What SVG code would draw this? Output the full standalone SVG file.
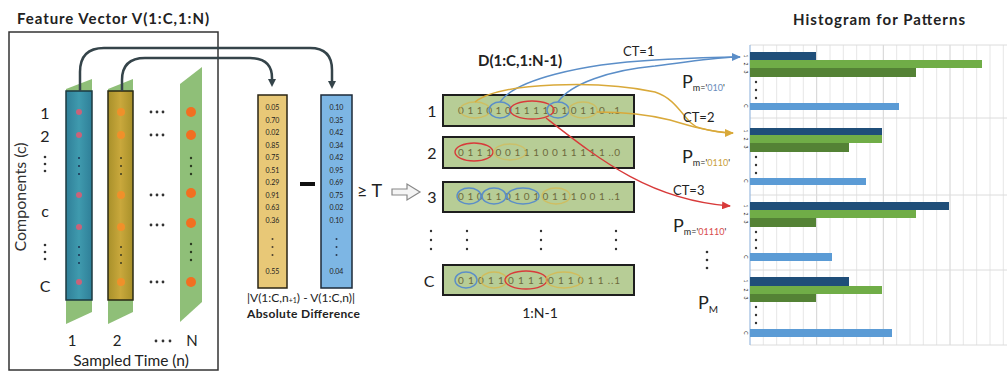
<svg xmlns="http://www.w3.org/2000/svg" width="1007" height="371" viewBox="0 0 1007 371">
<style>
text{font-family:Lato,"Open Sans","Liberation Sans",sans-serif;fill:#222}
.title{font-size:15px;font-weight:bold}
.lbl{font-size:16px;fill:#333}
.val{font-size:7px;text-anchor:middle}
.row{font-size:10px;fill:#6e6a3c}
.strip{fill:#8fbf78}
.grid{stroke:#e6e6e6;stroke-width:1}
.gridM{stroke:#d2d2d2;stroke-width:1}
.hsep{stroke:#dcdcdc;stroke-width:1}
.conn{fill:none;stroke-width:2.5}
.ell{fill:none;stroke-width:1.4}
.dot{fill:#333}
.tick{font-size:5px;fill:#555}
</style>
<defs>
<marker id="ahD" markerWidth="8" markerHeight="8" refX="4" refY="4" orient="auto" markerUnits="userSpaceOnUse"><path d="M0,0 L8,4 L0,8 z" fill="#35444a"/></marker>
<marker id="ahB" markerWidth="9" markerHeight="8" refX="8" refY="4" orient="auto" markerUnits="userSpaceOnUse"><path d="M0,0 L9,4 L0,8 z" fill="#5b8ec8"/></marker>
<marker id="ahY" markerWidth="9" markerHeight="8" refX="8" refY="4" orient="auto" markerUnits="userSpaceOnUse"><path d="M0,0 L9,4 L0,8 z" fill="#d9a93a"/></marker>
<marker id="ahR" markerWidth="9" markerHeight="8" refX="8" refY="4" orient="auto" markerUnits="userSpaceOnUse"><path d="M0,0 L9,4 L0,8 z" fill="#d83a3a"/></marker>
<linearGradient id="gTeal" x1="0" x2="1"><stop offset="0" stop-color="#2f7f98"/><stop offset="0.5" stop-color="#3f9aae"/><stop offset="1" stop-color="#2f7f98"/></linearGradient>
<linearGradient id="gOlive" x1="0" x2="1"><stop offset="0" stop-color="#a8902a"/><stop offset="0.5" stop-color="#c9a83c"/><stop offset="1" stop-color="#a8902a"/></linearGradient>
</defs>

<!-- Feature vector panel -->
<g id="feature-vector">
<text class="title" x="17" y="24" textLength="192">Feature Vector V(1:C,1:N)</text>
<rect x="9" y="32" width="209" height="338" fill="none" stroke="#333" stroke-width="1.5"/>
<text class="lbl" transform="translate(26,197) rotate(-90)" text-anchor="middle" font-size="15">Components (c)</text>
<g class="lbl" text-anchor="middle">
<text x="45" y="119">1</text><text x="45" y="142">2</text>
<text x="45" y="217">c</text><text x="45" y="292">C</text>
</g>
<g class="dot"><circle cx="45" cy="157" r="1.3"/><circle cx="45" cy="164" r="1.3"/><circle cx="45" cy="171" r="1.3"/><circle cx="45" cy="245" r="1.3"/><circle cx="45" cy="252" r="1.3"/><circle cx="45" cy="259" r="1.3"/></g>
</g>

<g id="column-1">
<polygon class="strip" points="66,89 92,79 92,312 66,324"/>
<rect x="66" y="91" width="26" height="209" fill="url(#gTeal)" stroke="#1d3a40" stroke-width="1.5"/>
<g fill="#c9637a"><circle cx="79" cy="112" r="3"/><circle cx="79" cy="135" r="3"/><circle cx="79" cy="195" r="3"/><circle cx="79" cy="227" r="3"/><circle cx="79" cy="282" r="3"/></g>
<g fill="#1d3050"><circle cx="79" cy="158" r="1"/><circle cx="79" cy="166" r="1"/><circle cx="79" cy="174" r="1"/><circle cx="79" cy="247" r="1"/><circle cx="79" cy="255" r="1"/><circle cx="79" cy="263" r="1"/></g>
</g>
<g id="column-2">
<polygon class="strip" points="108,89 133,79 133,312 108,324"/>
<rect x="108" y="91" width="25" height="209" fill="url(#gOlive)" stroke="#2a2a14" stroke-width="1.5"/>
<g fill="#f0902a"><circle cx="121" cy="112" r="4"/><circle cx="121" cy="135" r="4"/><circle cx="121" cy="195" r="4"/><circle cx="121" cy="227" r="4"/><circle cx="121" cy="282" r="4"/></g>
<g fill="#3a3a20"><circle cx="121" cy="158" r="1"/><circle cx="121" cy="166" r="1"/><circle cx="121" cy="174" r="1"/><circle cx="121" cy="247" r="1"/><circle cx="121" cy="255" r="1"/><circle cx="121" cy="263" r="1"/></g>
</g>
<g id="column-N">
<polygon class="strip" points="180,84 202,67 202,302 180,322"/>
<g fill="#f26f21"><circle cx="191" cy="112" r="5"/><circle cx="191" cy="135" r="5"/><circle cx="191" cy="193" r="5"/><circle cx="191" cy="223" r="5"/><circle cx="191" cy="282" r="5"/></g>
<g fill="#2a3a20"><circle cx="191" cy="158" r="1.2"/><circle cx="191" cy="166" r="1.2"/><circle cx="191" cy="174" r="1.2"/><circle cx="191" cy="244" r="1.2"/><circle cx="191" cy="252" r="1.2"/><circle cx="191" cy="260" r="1.2"/></g>
</g>
<g id="row-ellipsis" fill="#333">
<g id="hd"><circle cx="151" cy="112" r="1.4"/><circle cx="157" cy="112" r="1.4"/><circle cx="163" cy="112" r="1.4"/></g>
<use href="#hd" y="23"/><use href="#hd" y="83"/><use href="#hd" y="113"/><use href="#hd" y="170"/>
</g>
<g id="time-axis" class="lbl" text-anchor="middle">
<text x="72" y="346" font-size="15">1</text><text x="117" y="346" font-size="15">2</text>
<text x="192" y="346" font-size="15">N</text>
<g fill="#333"><circle cx="156" cy="341" r="1.4"/><circle cx="163" cy="341" r="1.4"/><circle cx="170" cy="341" r="1.4"/></g>
<text x="131" y="366" font-size="15.5">Sampled Time (n)</text>
</g>

<!-- Absolute difference -->
<g id="diff-col-a">
<rect x="258" y="95" width="29" height="193" fill="#e8c877" stroke="#2a2414" stroke-width="1.5"/>
<g class="val" fill="#7a6330">
<text x="272.5" y="110">0.05</text><text x="272.5" y="122.5">0.70</text><text x="272.5" y="135">0.02</text><text x="272.5" y="147.5">0.85</text><text x="272.5" y="160">0.75</text><text x="272.5" y="172.5">0.51</text><text x="272.5" y="185">0.29</text><text x="272.5" y="197.5">0.91</text><text x="272.5" y="210">0.63</text><text x="272.5" y="222.5">0.36</text><text x="272.5" y="274">0.55</text>
</g>
<g fill="#4a4030"><circle cx="272.5" cy="239" r="1"/><circle cx="272.5" cy="247" r="1"/><circle cx="272.5" cy="255" r="1"/></g>
</g>
<g id="diff-col-b">
<rect x="321" y="95" width="31" height="193" fill="#7db6e4" stroke="#1d2a38" stroke-width="1.5"/>
<g class="val" fill="#35557c">
<text x="336.5" y="110">0.10</text><text x="336.5" y="122.5">0.35</text><text x="336.5" y="135">0.42</text><text x="336.5" y="147.5">0.34</text><text x="336.5" y="160">0.42</text><text x="336.5" y="172.5">0.95</text><text x="336.5" y="185">0.69</text><text x="336.5" y="197.5">0.75</text><text x="336.5" y="210">0.02</text><text x="336.5" y="222.5">0.10</text><text x="336.5" y="274">0.04</text>
</g>
<g fill="#2a3a50"><circle cx="336.5" cy="239" r="1"/><circle cx="336.5" cy="247" r="1"/><circle cx="336.5" cy="255" r="1"/></g>
</g>
<g id="diff-ops">
<rect x="300" y="182" width="15" height="4" fill="#111"/>
<text x="357" y="197" font-size="18" fill="#333">≥ T</text>
<polygon points="392,189 407,189 407,184 420,192 407,200 407,195 392,195" fill="#f4f4f4" stroke="#888" stroke-width="1.2"/>
<text x="247" y="302" font-size="12" fill="#333">|V(1:C,n<tspan font-size="7" dy="1">+1</tspan><tspan dy="-1">) - V(1:C,n)|</tspan></text>
<text x="247" y="318" font-size="12" font-weight="bold" textLength="113">Absolute Difference</text>
</g>

<!-- D matrix -->
<g id="d-matrix">
<text class="title" x="478" y="66" font-size="16.5">D(1:C,1:N-1)</text>
<g class="lbl" text-anchor="middle">
<text x="432" y="117">1</text><text x="432" y="159">2</text><text x="432" y="203">3</text><text x="429" y="287">C</text>
</g>
<g id="vd" fill="#333"><circle cx="431" cy="231" r="1.2"/><circle cx="431" cy="240" r="1.2"/><circle cx="431" cy="249" r="1.2"/></g>
<use href="#vd" x="36"/><use href="#vd" x="110"/><use href="#vd" x="185"/>
<text x="540" y="318" font-size="14" text-anchor="middle" fill="#333">1:N-1</text>
</g>
<g id="d-row-1">
<rect x="443" y="95" width="191" height="31" fill="#b7cd96" stroke="#1e1e1e" stroke-width="2"/>
<text class="row" x="458" y="114" textLength="162">0 1 1 0 1 0 1 1 1 1 0 1 0 1 1 0 ..1</text>
<ellipse class="ell" cx="475" cy="110" rx="15" ry="8" stroke="#d8b84c" opacity="0.7"/>
<ellipse class="ell" cx="500" cy="110" rx="11" ry="8" stroke="#5b8ec8"/>
<ellipse class="ell" cx="532" cy="110" rx="22" ry="9" stroke="#d83a3a"/>
<ellipse class="ell" cx="558" cy="110" rx="11" ry="8" stroke="#5b8ec8"/>
<ellipse class="ell" cx="583" cy="110" rx="14" ry="8" stroke="#d8b84c" opacity="0.7"/>
</g>
<g id="d-row-2">
<rect x="443" y="137" width="191" height="31" fill="#b7cd96" stroke="#1e1e1e" stroke-width="2"/>
<text class="row" x="458" y="156" textLength="162">0 1 1 1 0 0 1 1 1 0 0 1 1 1 1 1 ..0</text>
<ellipse class="ell" cx="474" cy="152" rx="19" ry="9" stroke="#d83a3a"/>
<ellipse class="ell" cx="510" cy="152" rx="16" ry="8" stroke="#d8b84c" opacity="0.6"/>
</g>
<g id="d-row-3">
<rect x="443" y="182" width="191" height="30" fill="#b7cd96" stroke="#1e1e1e" stroke-width="2"/>
<text class="row" x="458" y="200" textLength="162">0 1 0 1 1 0 1 0 1 0 1 1 1 0 0 1 ..1</text>
<ellipse class="ell" cx="469" cy="196" rx="12" ry="8" stroke="#5b8ec8"/>
<ellipse class="ell" cx="494" cy="196" rx="12" ry="8" stroke="#5b8ec8"/>
<ellipse class="ell" cx="523" cy="196" rx="16" ry="8" stroke="#5b8ec8"/>
<ellipse class="ell" cx="556" cy="196" rx="14" ry="8" stroke="#d8b84c" opacity="0.7"/>
</g>
<g id="d-row-C">
<rect x="443" y="265" width="191" height="30" fill="#b7cd96" stroke="#1e1e1e" stroke-width="2"/>
<text class="row" x="458" y="284" textLength="162">0 1 0 1 1 0 1 1 1 0 1 1 0 1 1 ..1</text>
<ellipse class="ell" cx="466" cy="280" rx="11" ry="8" stroke="#5b8ec8"/>
<ellipse class="ell" cx="494" cy="280" rx="13" ry="8" stroke="#d8b84c" opacity="0.8"/>
<ellipse class="ell" cx="526" cy="280" rx="21" ry="9" stroke="#d83a3a"/>
<ellipse class="ell" cx="564" cy="280" rx="18" ry="8" stroke="#d8b84c" opacity="0.8"/>
</g>

<!-- Histogram -->
<g id="histogram">
<text class="title" x="793" y="25" font-size="16" textLength="172">Histogram for Patterns</text>
<g class="grid">
<line x1="763.3" y1="45" x2="763.3" y2="345"/><line x1="776.7" y1="45" x2="776.7" y2="345"/><line x1="790" y1="45" x2="790" y2="345"/><line x1="803.3" y1="45" x2="803.3" y2="345"/>
<line x1="830" y1="45" x2="830" y2="345"/><line x1="843.3" y1="45" x2="843.3" y2="345"/><line x1="856.7" y1="45" x2="856.7" y2="345"/><line x1="870" y1="45" x2="870" y2="345"/>
<line x1="896.7" y1="45" x2="896.7" y2="345"/><line x1="910" y1="45" x2="910" y2="345"/><line x1="923.3" y1="45" x2="923.3" y2="345"/><line x1="936.7" y1="45" x2="936.7" y2="345"/>
<line x1="963.3" y1="45" x2="963.3" y2="345"/><line x1="976.7" y1="45" x2="976.7" y2="345"/><line x1="990" y1="45" x2="990" y2="345"/><line x1="1003.3" y1="45" x2="1003.3" y2="345"/>
</g>
<g class="gridM">
<line x1="816.7" y1="45" x2="816.7" y2="345"/><line x1="883.3" y1="45" x2="883.3" y2="345"/><line x1="950" y1="45" x2="950" y2="345"/>
</g>
<g class="hsep">
<line x1="750" y1="45" x2="1007" y2="45"/><line x1="750" y1="118" x2="1007" y2="118"/><line x1="750" y1="195" x2="1007" y2="195"/><line x1="750" y1="270" x2="1007" y2="270"/><line x1="750" y1="345" x2="1007" y2="345"/>
</g>
<line x1="750" y1="45" x2="750" y2="345" stroke="#9bbbe0" stroke-width="1.2"/>
</g>
<g id="bars-group-1">
<rect x="750" y="52" width="66" height="8" fill="#1f4e79"/>
<rect x="750" y="60" width="232" height="8" fill="#70ad47"/>
<rect x="750" y="68" width="166" height="9" fill="#548235"/>
<rect x="750" y="103" width="149" height="7" fill="#5b9bd5"/>
<g class="dot"><circle cx="756" cy="82" r="1.2"/><circle cx="756" cy="90" r="1.2"/><circle cx="756" cy="98" r="1.2"/></g>
</g>
<g id="bars-group-2">
<rect x="750" y="128" width="132" height="7" fill="#1f4e79"/>
<rect x="750" y="135" width="132" height="8" fill="#70ad47"/>
<rect x="750" y="143" width="99" height="9" fill="#548235"/>
<rect x="750" y="178" width="116" height="7" fill="#5b9bd5"/>
<g class="dot"><circle cx="756" cy="157" r="1.2"/><circle cx="756" cy="165" r="1.2"/><circle cx="756" cy="173" r="1.2"/></g>
</g>
<g id="bars-group-3">
<rect x="750" y="202" width="199" height="8" fill="#1f4e79"/>
<rect x="750" y="210" width="166" height="8" fill="#70ad47"/>
<rect x="750" y="218" width="66" height="9" fill="#548235"/>
<rect x="750" y="253" width="82" height="8" fill="#5b9bd5"/>
<g class="dot"><circle cx="756" cy="232" r="1.2"/><circle cx="756" cy="240" r="1.2"/><circle cx="756" cy="248" r="1.2"/></g>
</g>
<g id="bars-group-4">
<rect x="750" y="277" width="99" height="9" fill="#1f4e79"/>
<rect x="750" y="286" width="132" height="8" fill="#70ad47"/>
<rect x="750" y="294" width="66" height="8" fill="#548235"/>
<rect x="750" y="329" width="142" height="8" fill="#5b9bd5"/>
<g class="dot"><circle cx="756" cy="307" r="1.2"/><circle cx="756" cy="315" r="1.2"/><circle cx="756" cy="323" r="1.2"/></g>
</g>
<g id="tick-labels" class="tick" text-anchor="middle">
<text transform="translate(744,56) rotate(90)">1</text><text transform="translate(744,64) rotate(90)">2</text><text transform="translate(744,72) rotate(90)">3</text><text transform="translate(744,106) rotate(90)">C</text>
<text transform="translate(744,131) rotate(90)">1</text><text transform="translate(744,139) rotate(90)">2</text><text transform="translate(744,147) rotate(90)">3</text><text transform="translate(744,181) rotate(90)">C</text>
<text transform="translate(744,206) rotate(90)">1</text><text transform="translate(744,214) rotate(90)">2</text><text transform="translate(744,222) rotate(90)">3</text><text transform="translate(744,257) rotate(90)">C</text>
<text transform="translate(744,281) rotate(90)">1</text><text transform="translate(744,290) rotate(90)">2</text><text transform="translate(744,298) rotate(90)">3</text><text transform="translate(744,333) rotate(90)">C</text>
</g>
<g id="pattern-labels" fill="#333">
<text x="682" y="88" font-size="18">P<tspan font-size="9" dy="3">m='<tspan fill="#6a8cbc">010</tspan>'</tspan></text>
<text x="682" y="163" font-size="18">P<tspan font-size="9" dy="3">m='<tspan fill="#c9a03a">0110</tspan>'</tspan></text>
<text x="673" y="232" font-size="18">P<tspan font-size="9" dy="3">m='<tspan fill="#d84a4a">01110</tspan>'</tspan></text>
<g class="dot"><circle cx="707" cy="252" r="1.3"/><circle cx="707" cy="260" r="1.3"/><circle cx="707" cy="268" r="1.3"/></g>
<text x="698" y="309" font-size="18">P<tspan font-size="10" dy="4">M</tspan></text>
</g>

<!-- Connectors -->
<g id="connectors">
<path class="conn" d="M80,91 V72 Q80,48 104,48 H310 Q332,48 332,70 V85" stroke="#35444a" marker-end="url(#ahD)"/>
<path class="conn" d="M122,91 V80 Q122,58 145,58 H250 Q272,58 272,78 V83" stroke="#35444a" marker-end="url(#ahD)"/>
<path fill="none" stroke="#5b8ec8" stroke-width="1.4" d="M500,102 C515,80 580,64 655,60"/>
<path fill="none" stroke="#5b8ec8" stroke-width="1.4" d="M558,102 C570,84 610,70 655,66 C690,62 715,57 740,57" marker-end="url(#ahB)"/>
<path fill="none" stroke="#5b8ec8" stroke-width="1.4" d="M655,60 C690,58 715,57 740,57"/>
<path fill="none" stroke="#d9a93a" stroke-width="1.4" d="M475,102 C500,82 600,80 655,92 C680,100 685,125 700,128 C715,132 725,133 733,133" marker-end="url(#ahY)"/>
<path fill="none" stroke="#d9a93a" stroke-width="1.4" d="M597,112 C630,112 650,115 670,120 C690,126 710,132 733,133"/>
<path fill="none" stroke="#d83a3a" stroke-width="1.4" d="M546,118 C600,160 650,200 730,206" marker-end="url(#ahR)"/>
<text x="623" y="56" font-size="13" fill="#333">CT=1</text>
<text x="683" y="122" font-size="13" fill="#333">CT=2</text>
<text x="673" y="195" font-size="13" fill="#333">CT=3</text>
</g>
</svg>
